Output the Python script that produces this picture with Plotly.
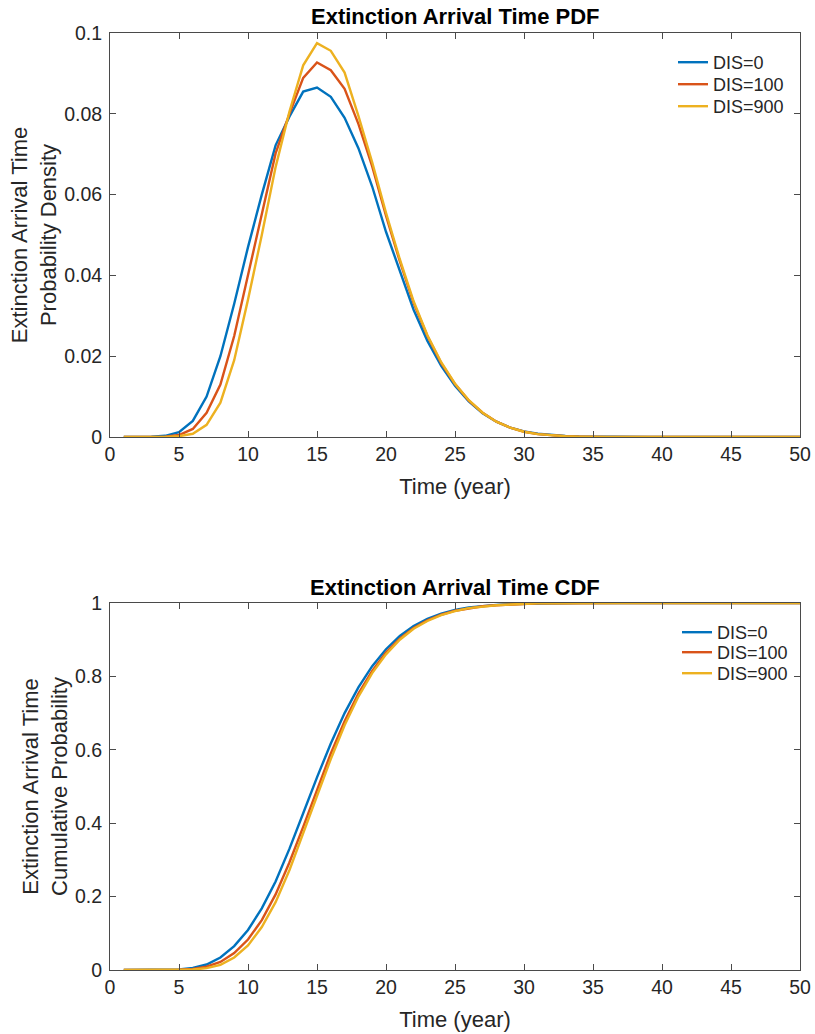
import plotly.graph_objects as go

# ---------------- data ----------------
years = list(range(1, 51))

pdf_dis0 = [0, 0, 0.00005, 0.0003, 0.0012, 0.004, 0.010, 0.020, 0.033, 0.047,
            0.060, 0.0722, 0.0793, 0.0855, 0.0865, 0.0842, 0.0790, 0.0715, 0.0620, 0.0508,
            0.0410, 0.0315, 0.0238, 0.0176, 0.0127, 0.0088, 0.0059, 0.0038, 0.0023, 0.0014,
            0.0008, 0.00045, 0.00024, 0.00012, 0.00006, 0.00003, 0, 0, 0, 0,
            0, 0, 0, 0, 0, 0, 0, 0, 0, 0]
pdf_dis100 = [0, 0, 0, 0.0001, 0.0005, 0.002, 0.006, 0.013, 0.025, 0.040,
              0.055, 0.0702, 0.0800, 0.0889, 0.0927, 0.0908, 0.0862, 0.0775, 0.0670, 0.0548,
              0.0435, 0.0332, 0.0250, 0.0183, 0.0131, 0.0090, 0.0060, 0.0038, 0.0023, 0.0013,
              0.0007, 0.0004, 0.0002, 0.0001, 0, 0, 0, 0, 0, 0,
              0, 0, 0, 0, 0, 0, 0, 0, 0, 0]
pdf_dis900 = [0, 0, 0, 0, 0.0002, 0.0008, 0.003, 0.0085, 0.019, 0.034,
              0.050, 0.0668, 0.0805, 0.0920, 0.0975, 0.0956, 0.0902, 0.0795, 0.0680, 0.0555,
              0.0440, 0.0336, 0.0252, 0.0185, 0.0132, 0.0091, 0.0060, 0.0038, 0.0023, 0.0013,
              0.0007, 0.0004, 0.0002, 0.0001, 0, 0, 0, 0, 0, 0,
              0, 0, 0, 0, 0, 0, 0, 0, 0, 0]

cdf_dis0 = [0, 0, 0.0001, 0.0004, 0.0016, 0.0056, 0.015, 0.034, 0.065, 0.109,
            0.168, 0.241, 0.330, 0.427, 0.525, 0.617, 0.700, 0.770, 0.828, 0.874,
            0.910, 0.937, 0.957, 0.971, 0.981, 0.988, 0.992, 0.995, 0.997, 0.998,
            0.999, 0.9995, 1, 1, 1, 1, 1, 1, 1, 1,
            1, 1, 1, 1, 1, 1, 1, 1, 1, 1]
cdf_dis100 = [0, 0, 0, 0.0001, 0.0006, 0.003, 0.009, 0.022, 0.046, 0.083,
              0.136, 0.206, 0.293, 0.390, 0.492, 0.590, 0.678, 0.753, 0.815, 0.865,
              0.903, 0.932, 0.953, 0.968, 0.979, 0.986, 0.991, 0.994, 0.996, 0.998,
              0.999, 0.9995, 1, 1, 1, 1, 1, 1, 1, 1,
              1, 1, 1, 1, 1, 1, 1, 1, 1, 1]
cdf_dis900 = [0, 0, 0, 0, 0.0002, 0.0012, 0.005, 0.014, 0.034, 0.067,
              0.117, 0.185, 0.272, 0.371, 0.474, 0.575, 0.667, 0.745, 0.809, 0.860,
              0.900, 0.930, 0.951, 0.967, 0.978, 0.986, 0.991, 0.994, 0.996, 0.998,
              0.999, 0.9995, 1, 1, 1, 1, 1, 1, 1, 1,
              1, 1, 1, 1, 1, 1, 1, 1, 1, 1]

series_names = ["DIS=0", "DIS=100", "DIS=900"]
x_ticks = [0, 5, 10, 15, 20, 25, 30, 35, 40, 45, 50]
pdf_ticks = [0, 0.02, 0.04, 0.06, 0.08, 0.1]
cdf_ticks = [0, 0.2, 0.4, 0.6, 0.8, 1]

# ---------------- style ----------------
W, H = 815, 1034
colors = ["#0072BD", "#D95319", "#EDB120"]
FONT = "Liberation Sans, Arial, Helvetica, sans-serif"
TXT = "#262626"
AX = "#4a4a4a"

def px_x(p):
    return p / W

def px_y(p):
    return 1 - p / H

fig = go.Figure()

legend_ids = ["legend", "legend2", "legend3", "legend4", "legend5", "legend6"]

for i, (name, ys, c) in enumerate(zip(series_names, [pdf_dis0, pdf_dis100, pdf_dis900], colors)):
    fig.add_trace(go.Scatter(x=years, y=ys, mode="lines", name=name, showlegend=True,
                             line=dict(color=c, width=2.4),
                             xaxis="x", yaxis="y", legend=legend_ids[i]))
for i, (name, ys, c) in enumerate(zip(series_names, [cdf_dis0, cdf_dis100, cdf_dis900], colors)):
    fig.add_trace(go.Scatter(x=years, y=ys, mode="lines", name=name, showlegend=True,
                             line=dict(color=c, width=2.4),
                             xaxis="x2", yaxis="y2", legend=legend_ids[3 + i]))

x_dom = [px_x(110), px_x(800)]

def xaxis(anchor):
    return dict(domain=x_dom, anchor=anchor, range=[0, 50], tickvals=x_ticks,
                automargin=False,
                ticks="inside", ticklen=6, tickcolor=AX, showline=True, linecolor=AX,
                linewidth=1, mirror="ticks", showgrid=False, zeroline=False,
                tickfont=dict(family=FONT, size=19.5, color=TXT),
                title=dict(text="Time (year)", font=dict(family=FONT, size=22, color=TXT),
                           standoff=14))

def yaxis(anchor, dom, rng, tv, title):
    return dict(domain=dom, anchor=anchor, range=rng, tickvals=tv,
                automargin=False, ticklabelstandoff=3,
                ticks="inside", ticklen=6, tickcolor=AX, showline=True, linecolor=AX,
                linewidth=1, mirror="ticks", showgrid=False, zeroline=False,
                tickfont=dict(family=FONT, size=19.5, color=TXT),
                title=dict(text=title, font=dict(family=FONT, size=22, color=TXT),
                           standoff=1))

def leg(x_ref, y_ref):
    return dict(x=px_x(x_ref), y=px_y(y_ref), xanchor="left", yanchor="top",
                bgcolor="rgba(255,255,255,0)", borderwidth=0, itemwidth=30,
                font=dict(family=FONT, size=18, color=TXT))

# legend entry centres (reference pixels): top 62/84/106, bottom 632/652/673
layout_legends = {
    "legend": leg(673, 62 - 18),
    "legend2": leg(673, 84 - 18),
    "legend3": leg(673, 106 - 18),
    "legend4": leg(677, 632 - 18),
    "legend5": leg(677, 652 - 18),
    "legend6": leg(677, 673 - 18),
}

fig.update_layout(
    width=W, height=H,
    showlegend=True,
    margin=dict(l=0, r=0, t=0, b=0, autoexpand=False),
    paper_bgcolor="white", plot_bgcolor="white",
    xaxis=xaxis("y"),
    yaxis=yaxis("x", [px_y(437), px_y(33)], [0, 0.1], pdf_ticks,
                "Extinction Arrival Time<br>Probability Density"),
    xaxis2=xaxis("y2"),
    yaxis2=yaxis("x2", [px_y(970), px_y(603)], [0, 1], cdf_ticks,
                 "Extinction Arrival Time<br>Cumulative Probability"),
    annotations=[
        dict(text="<b>Extinction Arrival Time PDF</b>", x=0.5 * (x_dom[0] + x_dom[1]),
             y=px_y(16), xref="paper", yref="paper", showarrow=False,
             xanchor="center", yanchor="middle",
             font=dict(family=FONT, size=22, color="black")),
        dict(text="<b>Extinction Arrival Time CDF</b>", x=0.5 * (x_dom[0] + x_dom[1]),
             y=px_y(587), xref="paper", yref="paper", showarrow=False,
             xanchor="center", yanchor="middle",
             font=dict(family=FONT, size=22, color="black")),
    ],
    **layout_legends,
)

fig.write_html("out.html", config={"displayModeBar": False},
               post_script="document.body.style.margin='0';document.body.style.overflow='hidden';")
